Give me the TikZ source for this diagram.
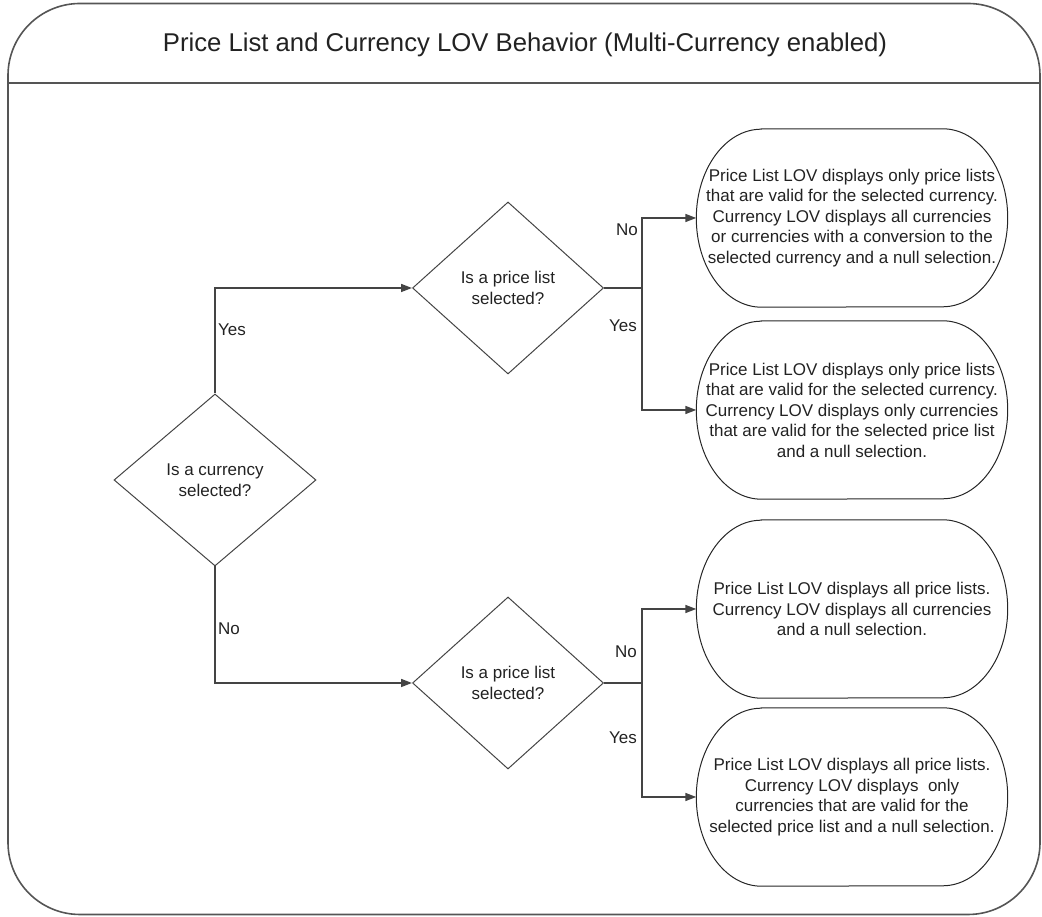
\documentclass[tikz,border=0pt]{standalone}
\usepackage{fontspec}
\setmainfont{Liberation Sans}
\usetikzlibrary{shapes.geometric,arrows.meta}
\definecolor{framecol}{HTML}{555555}
\definecolor{linecol}{HTML}{444444}
\definecolor{txtcol}{HTML}{222222}
\tikzset{
  bodyfont/.style={font=\fontsize{17}{20.5}\selectfont, text=txtcol},
  decision/.style={diamond, draw=linecol, line width=1pt, inner sep=0pt, align=center, bodyfont},
  termbox/.style={rectangle, draw=none, inner sep=0pt, minimum width=311pt, minimum height=178pt, align=center, bodyfont},
  boxline/.style={draw=black!85, line width=1pt},
  arr/.style={draw=linecol, line width=1.6pt, -{Triangle[length=11pt,width=8pt]}},
  conn/.style={draw=linecol, line width=1.6pt},
  lbl/.style={bodyfont, inner sep=0pt},
}
\newcommand\termshape[1]{%
  \draw[boxline] ([xshift=65pt]#1.north west) -- ([xshift=-65pt]#1.north east)
    arc[start angle=90,end angle=-90,x radius=65pt,y radius=89pt]
    -- ([xshift=65pt]#1.south west)
    arc[start angle=270,end angle=90,x radius=65pt,y radius=89pt] -- cycle;}
\begin{document}
\begin{tikzpicture}[x=1pt,y=1pt]
\useasboundingbox (0,0) rectangle (1042,917);
% frame
\node[draw=framecol, line width=1.6pt, rounded corners=72pt, minimum width=1032pt, minimum height=911pt, inner sep=0pt] (frame) at (524,458) {};
\coordinate (tl) at (8,834);
\coordinate (tr) at (1040,834);
\draw[draw=framecol, line width=1.6pt] (tl) -- (tr);
\node[font=\fontsize{25.7}{30}\selectfont, text=txtcol, anchor=base] (title) at (525,865) {Price List and Currency LOV Behavior (Multi-Currency enabled)};
% decisions
\node[decision, minimum width=202pt, minimum height=172pt] (d1) at (215,437) {Is a currency\\selected?};
\node[decision, minimum width=191pt, minimum height=172pt] (d2) at (508,629) {Is a price list\\selected?};
\node[decision, minimum width=191pt, minimum height=172pt] (d3) at (508,234) {Is a price list\\selected?};
% outcome boxes
\node[termbox] (b1) at (852,699) {Price List LOV displays only price lists\\that are valid for the selected currency.\\Currency LOV displays all currencies\\or currencies with a conversion to the\\selected currency and a null selection.};
\node[termbox] (b2) at (852,507) {Price List LOV displays only price lists\\that are valid for the selected currency.\\Currency LOV displays only currencies\\that are valid for the selected price list\\and a null selection.};
\node[termbox] (b3) at (852,308) {Price List LOV displays all price lists.\\Currency LOV displays all currencies\\and a null selection.};
\node[termbox] (b4) at (852,120) {Price List LOV displays all price lists.\\Currency LOV displays\ \ only\\currencies that are valid for the\\selected price list and a null selection.};
\termshape{b1}
\termshape{b2}
\termshape{b3}
\termshape{b4}
% junctions
\coordinate (j2) at (642,629);
\coordinate (j3) at (642,234);
% connectors
\draw[arr] (d1.north) |- (d2.west);
\draw[arr] (d1.south) |- (d3.west);
\draw[conn] (d2.east) -- (j2);
\draw[arr] (j2) |- (b1.west);
\draw[arr] (j2) |- (b2.west);
\draw[conn] (d3.east) -- (j3);
\draw[arr] (j3) |- (b3.west);
\draw[arr] (j3) |- (b4.west);
% labels
\node[lbl, anchor=west] (l1) at (218,587) {Yes};
\node[lbl, anchor=west] (l2) at (218,288) {No};
\node[lbl, anchor=east] (l3) at (638,687) {No};
\node[lbl, anchor=east] (l4) at (637,591) {Yes};
\node[lbl, anchor=east] (l5) at (637,265) {No};
\node[lbl, anchor=east] (l6) at (637,179) {Yes};
\end{tikzpicture}
\end{document}
